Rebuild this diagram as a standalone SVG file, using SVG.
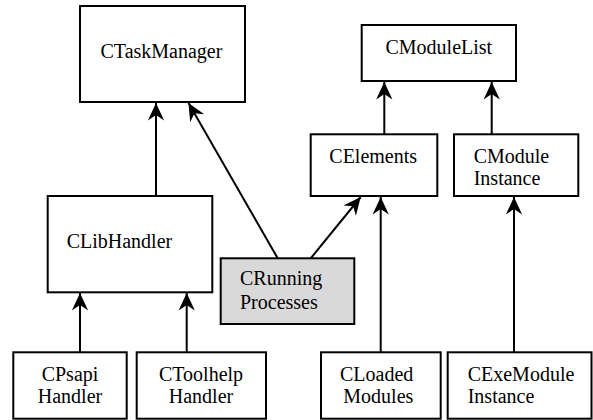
<svg xmlns="http://www.w3.org/2000/svg" width="593" height="420" viewBox="0 0 593 420">
<style>
.box{fill:#fff;stroke:#000;stroke-width:2}
.gray{fill:#d9d9d9}
text{font-family:"Liberation Serif","Times New Roman",serif;font-size:20px;fill:#000}
.c{text-anchor:middle}
.edge{stroke:#000;stroke-width:2;fill:none;marker-end:url(#arr)}
</style>
<defs>
<marker id="arr" markerUnits="userSpaceOnUse" markerWidth="20" markerHeight="20" viewBox="-15 -8 16 16" refX="0" refY="0" orient="auto">
<path d="M0,0 L-14,-6.5 L-9.5,0 L-14,6.5 Z" fill="#000"/>
</marker>
</defs>
<rect width="593" height="420" fill="#fff"/>
<g id="connectors">
<line class="edge" x1="156" y1="196" x2="156" y2="103"/>
<line class="edge" x1="277.7" y1="258.3" x2="188.5" y2="103"/>
<line class="edge" x1="310.7" y1="258.3" x2="360.7" y2="197"/>
<line class="edge" x1="384.3" y1="134" x2="384.3" y2="82"/>
<line class="edge" x1="491.7" y1="134" x2="491.7" y2="82"/>
<line class="edge" x1="80" y1="352" x2="80" y2="293"/>
<line class="edge" x1="186.7" y1="352" x2="186.7" y2="293"/>
<line class="edge" x1="380.7" y1="352" x2="380.7" y2="197"/>
<line class="edge" x1="514" y1="352" x2="514" y2="197"/>
</g>
<g id="CTaskManager">
<rect class="box" x="80" y="6" width="165" height="96"/>
<text x="100.5" y="58">CTaskManager</text>
</g>
<g id="CModuleList">
<rect class="box" x="361.7" y="25" width="154.3" height="56"/>
<text x="385.5" y="54">CModuleList</text>
</g>
<g id="CElements">
<rect class="box" x="310.7" y="134.3" width="126.6" height="61.7"/>
<text x="329.3" y="163.3">CElements</text>
</g>
<g id="CModuleInstance">
<rect class="box" x="454" y="134.3" width="124.3" height="61.7"/>
<text x="473.7" y="163">CModule</text>
<text x="473.7" y="185">Instance</text>
</g>
<g id="CLibHandler">
<rect class="box" x="47.7" y="196" width="164.6" height="96.3"/>
<text x="66.7" y="248.3">CLibHandler</text>
</g>
<g id="CRunningProcesses">
<rect class="box gray" x="220.7" y="258.3" width="133.6" height="65.7"/>
<text x="240" y="285">CRunning</text>
<text x="240" y="309">Processes</text>
</g>
<g id="CPsapiHandler">
<rect class="box" x="13.3" y="352.3" width="113.4" height="66.4"/>
<text class="c" x="70" y="380.7">CPsapi</text>
<text class="c" x="70" y="403.3">Handler</text>
</g>
<g id="CToolhelpHandler">
<rect class="box" x="136.7" y="352.3" width="129.3" height="66.4"/>
<text class="c" x="201" y="380.7">CToolhelp</text>
<text class="c" x="201" y="403.3">Handler</text>
</g>
<g id="CLoadedModules">
<rect class="box" x="321" y="352.3" width="119.7" height="66.4"/>
<text x="340" y="380.7">CLoaded</text>
<text x="343.3" y="403.3">Modules</text>
</g>
<g id="CExeModuleInstance">
<rect class="box" x="447.7" y="352.3" width="143.8" height="66.4"/>
<text x="467.7" y="380.7">CExeModule</text>
<text x="467.7" y="403.3">Instance</text>
</g>
</svg>
